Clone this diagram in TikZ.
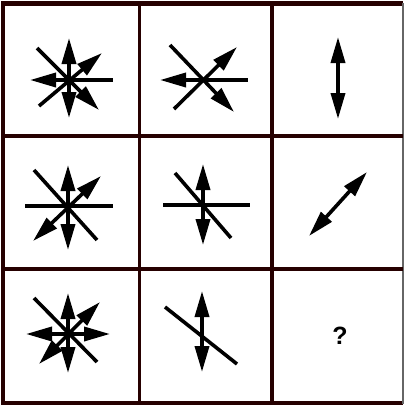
\documentclass[tikz,border=0pt]{standalone}
\usepackage{fontspec}
\setsansfont{Liberation Sans}
\usetikzlibrary{arrows.meta}

\begin{document}
\begin{tikzpicture}[
x=1pt,y=-1pt,
bar/.style={line width=3.6pt},
rule/.style={line width=3.8pt,draw=black!85!red},
tip/.style={bar,-{Triangle[length=26pt,width=14pt]}},
back/.style={bar,{Triangle[length=26pt,width=14pt]}-},
both/.style={bar,{Triangle[length=26pt,width=14pt]}-{Triangle[length=26pt,width=14pt]}},
hub/.style={fill,circle,inner sep=0pt,minimum size=8pt}
]
\useasboundingbox (0,0) rectangle (404,405);
\fill[white] (0,0) rectangle (404,405);

% grid
\draw[rule,line width=4.8pt] (403,3.5) -- (3,3.5) -- (3,403.5) -- (403,403.5);
\draw[line width=1.5pt,draw=black!60] (403,3) -- (403,404);
\draw[rule] (139.5,3) -- (139.5,404);
\draw[rule] (272,3) -- (272,404);
\draw[rule] (3,136) -- (403,136);
\draw[rule] (3,269) -- (403,269);

% row 1
\draw[back] (30,80) -- (113,80);
\draw[both] (69,38) -- (69,118);
\draw[tip] (39,106) -- (102,53);
\draw[tip] (37,48) -- (99,110);
\node[hub] (h1) at (69,80) {};

\draw[back] (160,80) -- (248,80);
\draw[tip] (174,109) -- (237,47);
\draw[tip] (170,45) -- (234,112);

\draw[both] (338,37) -- (338,119);

% row 2
\draw[bar] (25,206) -- (113,206);
\draw[bar] (34,170) -- (97,240);
\draw[both] (68,165) -- (68,250);
\draw[both] (33,241) -- (101,176);
\node[hub] (h2) at (68,206) {};

\draw[bar] (163,205) -- (250,205);
\draw[bar] (175,173) -- (231,238);
\draw[both] (203,164) -- (203,245);

\draw[both] (309,236) -- (367,172);

% row 3
\draw[bar] (34,298) -- (97,362);
\draw[both] (26,334) -- (110,334);
\draw[both] (68,293) -- (68,373);
\draw[both] (39,364) -- (100,302);
\node[hub] (h3) at (68,334) {};

\draw[bar] (165,307) -- (237,364);
\draw[both] (202,291) -- (202,372);

\node[font=\sffamily\bfseries\fontsize{25}{27}\selectfont] (q) at (340,336) {?};
\end{tikzpicture}
\end{document}
